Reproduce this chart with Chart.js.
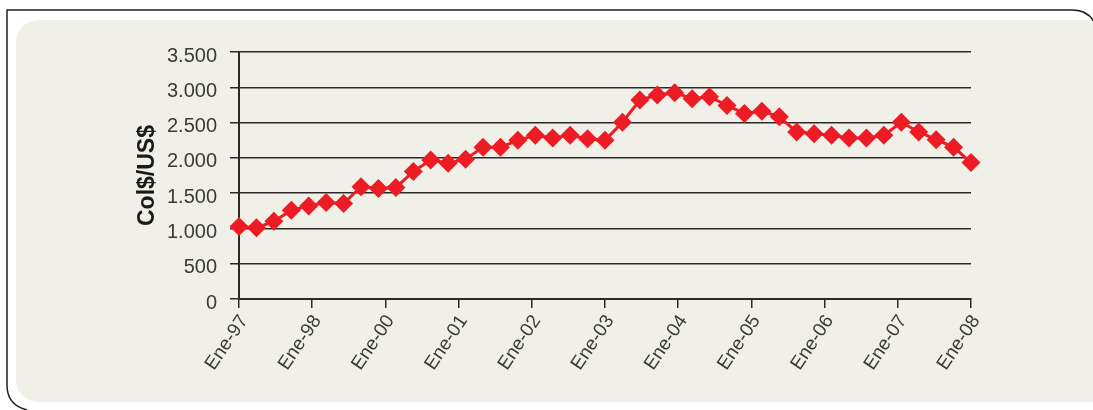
<!DOCTYPE html>
<html>
<head>
<meta charset="utf-8">
<script src="https://cdn.jsdelivr.net/npm/chart.js@4.4.1/dist/chart.umd.min.js"></script>
<style>
  html, body { margin: 0; padding: 0; background: #ffffff; }
  #wrap { width: 1093px; height: 410px; position: relative; }
</style>
</head>
<body>
<div id="wrap"><canvas id="chart" width="1093" height="410"></canvas></div>
<script>
// etiquetas del eje X (una cada 4,2 observaciones, como en el original)
const xLabels = ["Ene-97", "Ene-98", "Ene-00", "Ene-01", "Ene-02", "Ene-03",
  "Ene-04", "Ene-05", "Ene-06", "Ene-07", "Ene-08"];

// tasa de cambio Col$/US$ (43 observaciones)
const tasa = [
  1029, 1010, 1100, 1257, 1319, 1367, 1352, 1590, 1567, 1581,
  1805, 1971, 1924, 1981, 2152, 2152, 2248, 2319, 2281, 2319,
  2271, 2248, 2505, 2819, 2890, 2924, 2838, 2867, 2743, 2629,
  2662, 2581, 2367, 2343, 2319, 2281, 2281, 2319, 2505, 2367,
  2257, 2152, 1933
];

const yTicks = [0, 500, 1000, 1500, 2000, 2500, 3000, 3500];

const points = tasa.map((v, i) => ({ x: i, y: v }));

// fondo del recuadro
const panelPlugin = {
  id: "panel",
  beforeDraw(chart) {
    const ctx = chart.ctx;
    ctx.save();
    // panel beige
    ctx.fillStyle = "#f1f0e8";
    ctx.beginPath();
    ctx.roundRect(16, 20, 1110, 382, 22);
    ctx.fill();
    // borde exterior
    ctx.strokeStyle = "#222";
    ctx.lineWidth = 1.5;
    ctx.beginPath();
    ctx.moveTo(1096, 26);
    ctx.quadraticCurveTo(1090, 10, 1072, 10);
    ctx.lineTo(7, 10);
    ctx.lineTo(7, 385);
    ctx.quadraticCurveTo(7, 405, 27, 410);
    ctx.stroke();
    ctx.restore();
  }
};

const font = "'Liberation Sans', Arial, sans-serif";

new Chart(document.getElementById("chart"), {
  type: "line",
  data: {
    datasets: [{
      data: points,
      borderColor: "#ed1c24",
      backgroundColor: "#ed1c24",
      borderWidth: 3,
      pointStyle: "rectRot",
      pointRadius: 9.5,
      pointHoverRadius: 9.5,
      pointBorderWidth: 0,
      tension: 0,
      clip: false,
    }],
  },
  options: {
    responsive: false,
    animation: false,
    layout: { padding: { top: 52, right: 122, left: 0, bottom: 0 } },
    plugins: { legend: { display: false }, tooltip: { enabled: false } },
    scales: {
      x: {
        type: "linear",
        min: 0,
        max: tasa.length - 1,
        afterBuildTicks(scale) {
          const step = (tasa.length - 1) / (xLabels.length - 1);
          scale.ticks = xLabels.map((l, i) => ({ value: i * step }));
        },
        afterFit(scale) { scale.height = 111; },
        border: { display: true, color: "#2a2a2a", width: 2 },
        grid: { drawOnChartArea: false, drawTicks: true, tickLength: 9, color: "#2a2a2a", lineWidth: 1.5 },
        ticks: {
          callback: (v, i) => xLabels[i],
          minRotation: 56,
          maxRotation: 56,
          padding: 3,
          labelOffset: 5,
          color: "#3a3a3a",
          font: { family: font, size: 19 },
        },
      },
      y: {
        min: 0,
        max: 3500,
        afterBuildTicks(scale) {
          scale.ticks = yTicks.map((v) => ({ value: v }));
        },
        afterFit(scale) { scale.width = 239; },
        border: { display: true, color: "#2a2a2a", width: 2 },
        grid: { color: "#2a2a2a", lineWidth: 1.5, tickLength: 9 },
        ticks: {
          padding: 13,
          labelOffset: 4,
          color: "#3a3a3a",
          font: { family: font, size: 20 },
          callback: (v) => String(v).replace(/\B(?=(\d{3})+(?!\d))/g, "."),
        },
        title: {
          display: true,
          text: "Col$/US$",
          color: "#1a1a1a",
          font: { family: font, size: 23, weight: "bold" },
          padding: { top: 134, bottom: 0 },
        },
      },
    },
  },
  plugins: [panelPlugin],
});
</script>
</body>
</html>
